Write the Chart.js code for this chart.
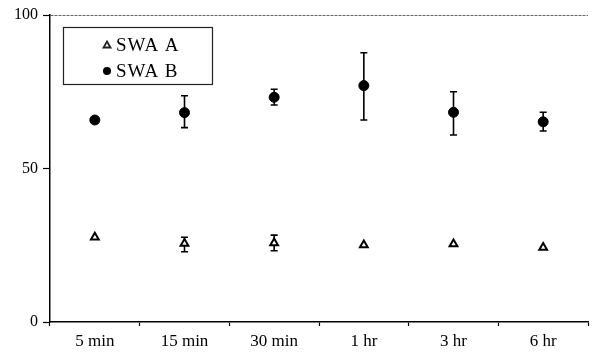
<!DOCTYPE html>
<html>
<head>
<meta charset="utf-8">
<script src="https://cdn.jsdelivr.net/npm/chart.js@4"></script>
<style>
html,body{margin:0;padding:0;background:#fff;}
#wrap{width:596px;height:358px;position:relative;}
</style>
</head>
<body>
<div id="wrap"><canvas id="c" width="596" height="358"></canvas></div>
<script>
const categories = ['5 min', '15 min', '30 min', '1 hr', '3 hr', '6 hr'];
const swaA = [27.6, 25.6, 25.7, 25.1, 25.4, 24.3];
const swaAHigh = [27.6, 27.6, 28.3, 25.1, 25.4, 24.3];
const swaALow = [27.6, 22.9, 23.2, 25.1, 25.4, 24.3];
const swaB = [65.8, 68.2, 73.2, 77.0, 68.3, 65.2];
const swaBHigh = [65.8, 73.7, 75.8, 87.7, 75.0, 68.3];
const swaBLow = [65.8, 63.3, 70.7, 65.8, 60.9, 62.2];
const yTicks = [0, 50, 100];

const FONT = '"Liberation Serif", "DejaVu Serif", serif';

const errorBars = {
  id: 'errorBars',
  beforeDatasetsDraw(chart) {
    const ctx = chart.ctx, xs = chart.scales.x, ys = chart.scales.y;
    const sets = [[swaAHigh, swaALow], [swaBHigh, swaBLow]];
    ctx.save();
    ctx.strokeStyle = '#000';
    ctx.lineWidth = 1.6;
    sets.forEach(([hi, lo]) => {
      hi.forEach((h, i) => {
        const l = lo[i];
        if (h === l) return;
        const x = xs.getPixelForValue(i);
        const yh = ys.getPixelForValue(h), yl = ys.getPixelForValue(l);
        ctx.beginPath();
        ctx.moveTo(x, yh); ctx.lineTo(x, yl);
        ctx.moveTo(x - 3.5, yh); ctx.lineTo(x + 3.5, yh);
        ctx.moveTo(x - 3.5, yl); ctx.lineTo(x + 3.5, yl);
        ctx.stroke();
      });
    });
    ctx.restore();
  }
};

const boxLegend = {
  id: 'boxLegend',
  afterDraw(chart) {
    const ctx = chart.ctx;
    ctx.save();
    ctx.strokeStyle = '#222';
    ctx.lineWidth = 1.2;
    ctx.strokeRect(63.5, 27.5, 149, 57);
    ctx.font = '19px ' + FONT;
    try { ctx.letterSpacing = '1px'; } catch (e) {}
    ctx.fillStyle = '#000';
    ctx.textBaseline = 'middle';
    chart.data.datasets.forEach((ds, i) => {
      const y = 45 + i * 26;
      const x = 107;
      ctx.beginPath();
      if (ds.pointStyle === 'triangle') {
        ctx.lineWidth = 1.8;
        ctx.moveTo(x, y - 3.5); ctx.lineTo(x + 3.5, y + 2.5); ctx.lineTo(x - 3.5, y + 2.5); ctx.closePath();
        ctx.stroke();
      } else {
        ctx.arc(x, y, 4, 0, Math.PI * 2);
        ctx.fill();
      }
      ctx.fillText(ds.label, 116, y + 1);
    });
    ctx.restore();
  }
};

new Chart(document.getElementById('c'), {
  type: 'line',
  data: {
    labels: categories,
    datasets: [
      { label: 'SWA A', data: swaA, showLine: false, pointStyle: 'triangle', pointRadius: 4.5,
        pointBackgroundColor: '#fff', pointBorderColor: '#000', pointBorderWidth: 2 },
      { label: 'SWA B', data: swaB, showLine: false, pointStyle: 'circle', pointRadius: 5,
        pointBackgroundColor: '#000', pointBorderColor: '#000', pointBorderWidth: 1 }
    ]
  },
  options: {
    responsive: false,
    animation: false,
    events: [],
    layout: { padding: { left: 0, right: 8, top: 15, bottom: 0 } },
    plugins: { legend: { display: false }, tooltip: { enabled: false } },
    scales: {
      x: {
        offset: true,
        grid: { offset: true, drawOnChartArea: false, tickLength: 4, tickColor: '#000', tickWidth: 1.2 },
        border: { color: '#000', width: 1.5 },
        ticks: { color: '#000', font: { family: FONT, size: 17 }, padding: 5, maxRotation: 0 },
        afterFit(s) { s.height = 36; }
      },
      y: {
        min: 0, max: 100,
        afterBuildTicks(s) { s.ticks = yTicks.map(v => ({ value: v })); },
        grid: {
          color: c => (c.tick && c.tick.value === 100) ? '#666' : 'rgba(0,0,0,0)',
          lineWidth: 1,
          tickColor: '#000', tickLength: 7, tickWidth: 1.2
        },
        border: { color: '#000', width: 1.5, dash: [3, 1] },
        ticks: { color: '#000', font: { family: FONT, size: 16 }, padding: 5 },
        afterFit(s) { s.width = 50; }
      }
    }
  },
  plugins: [errorBars, boxLegend]
});
</script>
</body>
</html>
